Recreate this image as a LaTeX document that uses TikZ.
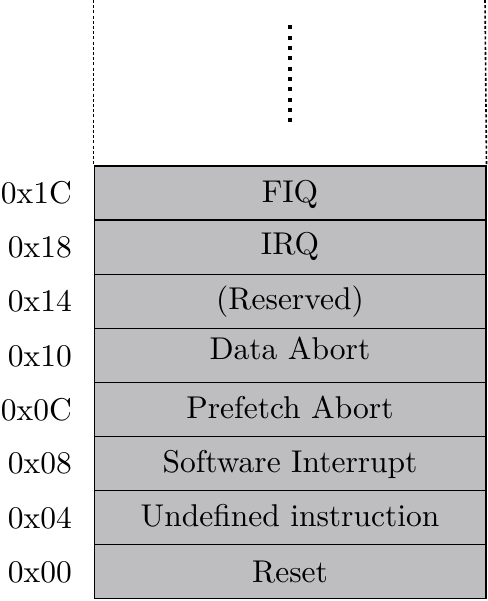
\documentclass[tikz,border=0pt]{standalone}
\usepackage{fontspec}
\setmainfont{lmroman10-regular}[Extension=.otf]
\definecolor{cellgray}{RGB}{190,190,192}
\tikzset{
  cell/.style={draw=black, line width=1.5pt, fill=cellgray, minimum width=391.5pt, minimum height=54pt, inner sep=0pt, anchor=north west},
  celltext/.style={anchor=base, inner sep=0pt, font=\fontsize{31.5}{31.5}\selectfont},
  addr/.style={anchor=base east, inner sep=0pt, font=\fontsize{31.5}{31.5}\selectfont},
  guide/.style={line width=1.6pt, dash pattern=on 3pt off 2.2pt},
}
\begin{document}
\begin{tikzpicture}[x=1pt,y=-1pt]
\useasboundingbox (0,0) rectangle (487,601);
% top guides
\coordinate (gl) at (93.5,0);
\coordinate (gr) at (485,0);
\coordinate (d1) at (289.7,25.5);
\coordinate (d2) at (289.7,123);
% rows
\node[cell] (r1) at (93.5,165.5) {};
\node[cell] (r2) at (93.5,219.5) {};
\node[cell] (r3) at (93.5,273.5) {};
\node[cell] (r4) at (93.5,327.5) {};
\node[cell] (r5) at (93.5,381.5) {};
\node[cell] (r6) at (93.5,435.5) {};
\node[cell] (r7) at (93.5,489.5) {};
\node[cell] (r8) at (93.5,543.5) {};
\draw[guide] (gl) -- (r1.north west);
\draw[guide] (gr) -- (r1.north east);
\draw[line width=4pt, dash pattern=on 4pt off 6.3pt] (d1) -- (d2);
% texts
\node[celltext] (t1) at ([yshift=-37.5]r1.north) {FIQ};
\node[celltext] (t2) at ([yshift=-35]r2.north) {IRQ};
\node[celltext] (t3) at ([yshift=-35.5]r3.north) {(Reserved)};
\node[celltext] (t4) at ([yshift=-31.5]r4.north) {Data Abort};
\node[celltext] (t5) at ([yshift=-37]r5.north) {Prefetch Abort};
\node[celltext] (t6) at ([yshift=-36.5]r6.north) {Software Interrupt};
\node[celltext] (t7) at ([yshift=-37]r7.north) {Undefined instruction};
\node[celltext] (t8) at ([yshift=-39]r8.north) {Reset};
% addresses
\node[addr] (a1) at (72,203.5) {0x1C};
\node[addr] (a2) at (72,258) {0x18};
\node[addr] (a3) at (72,311.5) {0x14};
\node[addr] (a4) at (72,366) {0x10};
\node[addr] (a5) at (72,420) {0x0C};
\node[addr] (a6) at (72,473.5) {0x08};
\node[addr] (a7) at (72,528) {0x04};
\node[addr] (a8) at (72,582.5) {0x00};
\end{tikzpicture}
\end{document}
